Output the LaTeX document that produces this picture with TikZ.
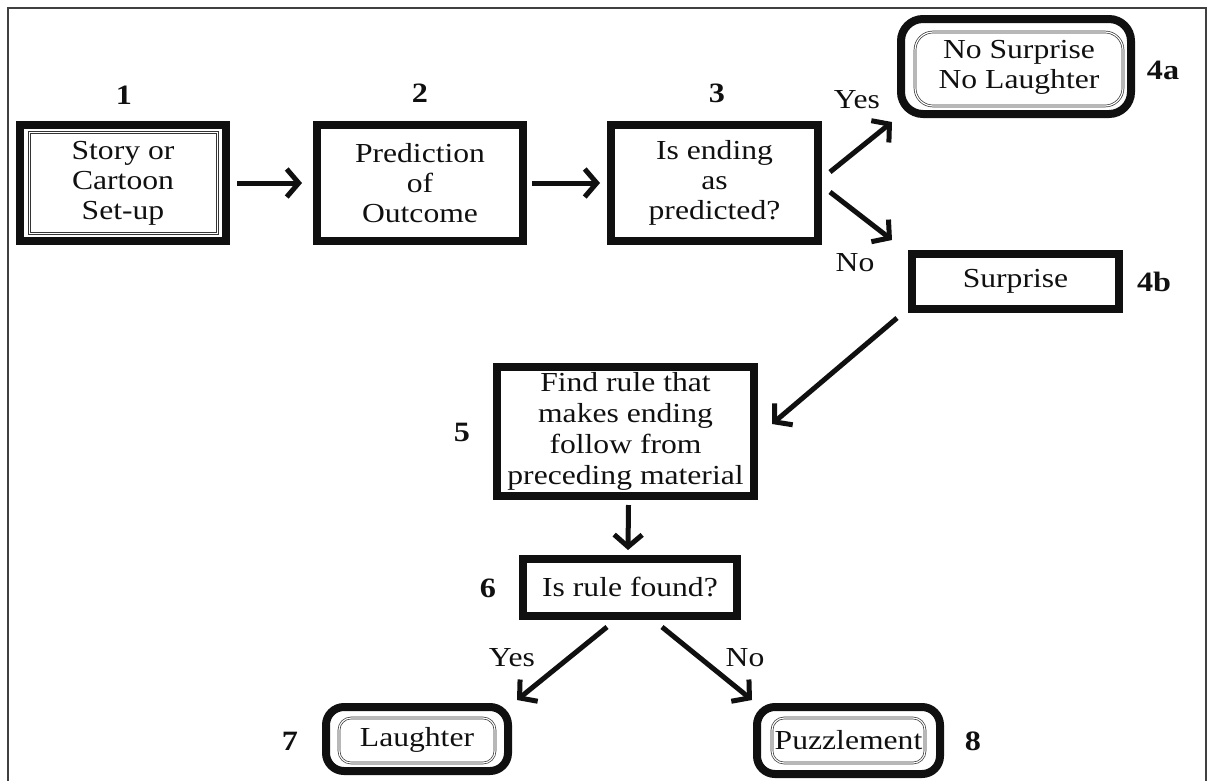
\documentclass[tikz,border=0pt]{standalone}
\usepackage{fontspec}
\setmainfont{Liberation Serif}[FakeStretch=1.15]
\usetikzlibrary{arrows.meta}
\definecolor{ink}{HTML}{101010}
\tikzset{
  txt/.style={font=\fontsize{27.5}{30}\selectfont, text=ink, align=center, inner sep=0pt},
  num/.style={font=\fontsize{28}{30}\selectfont\bfseries, text=ink, inner sep=0pt},
  thickbox/.style={txt, draw=ink, line width=8pt, rectangle, inner sep=0pt},
  roundbox/.style={thickbox, rounded corners=22pt},
  innerline/.style={draw=ink!85, double, double distance=1.2pt, line width=0.7pt},
  arr/.style={draw=ink, line width=5pt, -{Straight Barb[length=12pt,width=28pt]}},
}
\begin{document}
\begin{tikzpicture}[x=1pt,y=-1pt]
\useasboundingbox (0,0) rectangle (1208,780);
% frame
\draw[line width=2pt, draw=ink!80] (8,782) -- (8,8) -- (1206,8) -- (1206,782);

% boxes
\node[thickbox, minimum width=206pt, minimum height=116pt] (b1) at (123,183) {};
\node[innerline, minimum width=188pt, minimum height=101pt, inner sep=0pt] (b1i) at (123.5,183) {};
\node[txt] (t1) at (123,183) {Story or\\Cartoon\\Set-up};
\node[thickbox, minimum width=206pt, minimum height=116pt] (b2) at (420,183) {Prediction\\of\\Outcome};
\node[thickbox, minimum width=207pt, minimum height=116pt] (b3) at (714.5,183) {Is ending\\as\\predicted?};
\node[roundbox, minimum width=230pt, minimum height=95pt] (b4a) at (1016,66.5) {};
\node[innerline, rounded corners=18pt, minimum width=208pt, minimum height=74pt, inner sep=0pt] (b4ai) at (1019,69) {};
\node[txt] (t4a) at (1019,67) {No Surprise\\No Laughter};
\node[thickbox, minimum width=207pt, minimum height=55pt] (b4b) at (1015.5,281.5) {Surprise};
\node[thickbox, minimum width=257pt, minimum height=129pt, font=\fontsize{27.5}{31}\selectfont] (b5) at (625.5,431.5) {Find rule that\\makes ending\\follow from\\preceding material};
\node[thickbox, minimum width=214pt, minimum height=57pt] (b6) at (630,587.5) {Is rule found?};
\node[roundbox, rounded corners=18pt, minimum width=182pt, minimum height=64pt] (b7) at (417,739) {};
\node[innerline, rounded corners=12pt, minimum width=156pt, minimum height=45pt, inner sep=0pt] (b7i) at (417,740.5) {};
\node[txt] (t7) at (417,740) {Laughter};
\node[roundbox, rounded corners=18pt, minimum width=183pt, minimum height=67pt] (b8) at (848.5,740.5) {};
\node[innerline, rounded corners=12pt, minimum width=153pt, minimum height=45pt, inner sep=0pt] (b8i) at (848.5,740.5) {};
\node[txt] (t8) at (848.5,740) {Puzzlement};

% numbers
\node[num] (n1) at (124,95) {1};
\node[num] (n2) at (420,93) {2};
\node[num] (n3) at (717,93) {3};
\node[num] (n4a) at (1163,70) {4a};
\node[num] (n4b) at (1154,282) {4b};
\node[num] (n5) at (462,432) {5};
\node[num] (n6) at (488,588) {6};
\node[num] (n7) at (290,741) {7};
\node[num] (n8) at (973,741) {8};

% yes/no labels
\node[txt] (y3) at (857,100) {Yes};
\node[txt] (no3) at (855,263) {No};
\node[txt] (y6) at (512,658) {Yes};
\node[txt] (no6) at (745,658) {No};

% arrows
\draw[arr, shorten <=7pt, shorten >=11pt] (b1.east) -- (b2.west);
\draw[arr, shorten <=5pt, shorten >=7pt] (b2.east) -- (b3.west);
\draw[arr] ([shift={(8pt,11pt)}]b3.east) -- ([shift={(-5pt,-4pt)}]b4a.south west);
\draw[arr] ([shift={(8pt,-9pt)}]b3.east) -- ([shift={(-16pt,10pt)}]b4b.north west);
\draw[arr] ([shift={(-11pt,-5pt)}]b4b.south west) -- ([shift={(14pt,7.5pt)}]b5.east);
\draw[arr] ([shift={(3pt,-5pt)}]b5.south) -- ([shift={(-2pt,5pt)}]b6.north);
\draw[arr] ([shift={(-23pt,-7pt)}]b6.south) -- ([shift={(5pt,3pt)}]b7.north east);
\draw[arr] ([shift={(32pt,-7pt)}]b6.south) -- ([shift={(-1pt,3pt)}]b8.north west);
\end{tikzpicture}
\end{document}
